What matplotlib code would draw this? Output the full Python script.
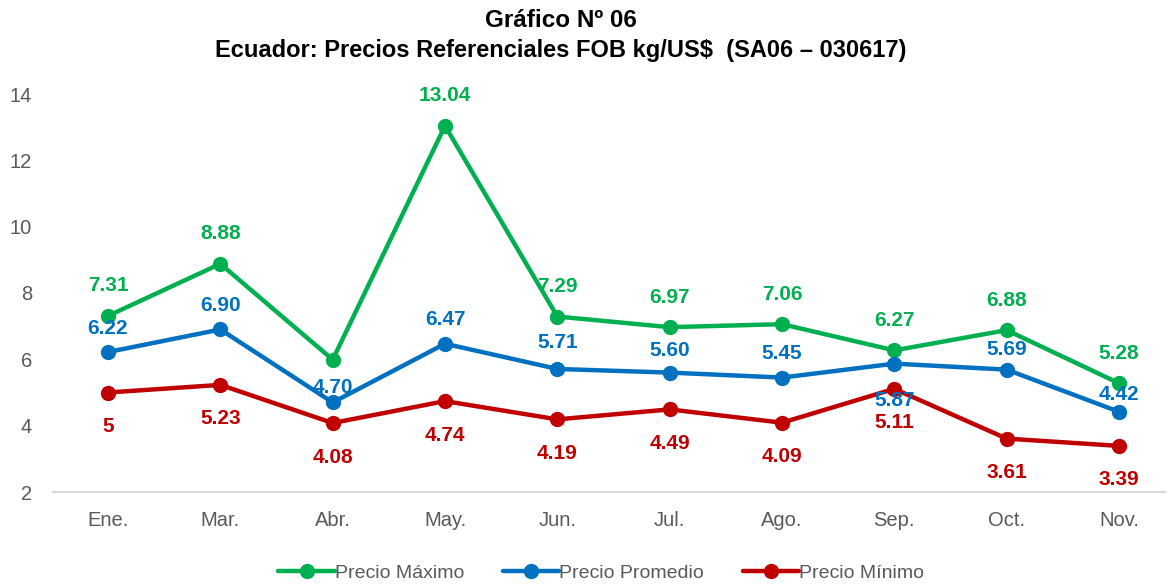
import matplotlib
matplotlib.use('Agg')
import matplotlib.pyplot as plt

months = ['Ene.', 'Mar.', 'Abr.', 'May.', 'Jun.', 'Jul.', 'Ago.', 'Sep.', 'Oct.', 'Nov.']
precio_max = [7.31, 8.88, 5.99, 13.04, 7.29, 6.97, 7.06, 6.27, 6.88, 5.28]
precio_prom = [6.22, 6.90, 4.70, 6.47, 5.71, 5.60, 5.45, 5.87, 5.69, 4.42]
precio_min = [5, 5.23, 4.08, 4.74, 4.19, 4.49, 4.09, 5.11, 3.61, 3.39]
max_labels = ['7.31', '8.88', '', '13.04', '7.29', '6.97', '7.06', '6.27', '6.88', '5.28']
prom_labels = ['6.22', '6.90', '4.70', '6.47', '5.71', '5.60', '5.45', '5.87', '5.69', '4.42']
min_labels = ['5', '5.23', '4.08', '4.74', '4.19', '4.49', '4.09', '5.11', '3.61', '3.39']

# label offsets in pixels (positive = above point)
max_off = [30] * 10
prom_off = [24, 24, 15, 24, 26, 22, 24, -37, 20, 17]
min_off = [-34] * 10

green = '#00B050'
blue = '#0070C0'
red = '#C00000'
narrow = ['Liberation Sans Narrow', 'Liberation Sans', 'DejaVu Sans']

fig = plt.figure(figsize=(11.69, 5.85), dpi=100)
ax = fig.add_axes([53 / 1169, 93 / 585, 1112 / 1169, 398 / 585])
x = list(range(len(months)))

series = [
    (precio_max, max_labels, max_off, green, 'Precio Máximo'),
    (precio_prom, prom_labels, prom_off, blue, 'Precio Promedio'),
    (precio_min, min_labels, min_off, red, 'Precio Mínimo'),
]
for vals, labs, offs, col, name in series:
    ax.plot(x, vals, color=col, lw=3.2, marker='o', ms=10, label=name,
            solid_capstyle='round')
    for xi, v, lab, off in zip(x, vals, labs, offs):
        if lab:
            ax.annotate(lab, (xi, v), xytext=(0, off * 0.72), textcoords='offset points',
                        ha='center', va='center', color=col, fontsize=15,
                        fontweight='bold', family=narrow)

ax.set_xlim(-0.49, 9.41)
ax.set_ylim(2, 14)
ax.set_yticks([2, 4, 6, 8, 10, 12, 14])
ax.set_xticks(x)
ax.set_xticklabels(months)
for s in ['top', 'right', 'left']:
    ax.spines[s].set_visible(False)
ax.spines['bottom'].set_color('#D9D9D9')
ax.spines['bottom'].set_linewidth(1.5)
ax.tick_params(axis='both', length=0, labelsize=14.5, labelcolor='#595959')
ax.tick_params(axis='y', pad=15)
ax.tick_params(axis='x', pad=14)
for t in ax.get_xticklabels() + ax.get_yticklabels():
    t.set_family(narrow)

fig.text(0.48, 0.965, 'Gráfico Nº 06', ha='center', va='center', fontsize=17.5,
         fontweight='bold', family=['Liberation Sans', 'DejaVu Sans'])
fig.text(0.48, 0.913, 'Ecuador: Precios Referenciales FOB kg/US$  (SA06 – 030617)',
         ha='center', va='center', fontsize=17, fontweight='bold',
         family=['Liberation Sans', 'DejaVu Sans'])

leg = fig.legend(loc='center', bbox_to_anchor=(0.5145, 0.02), ncol=3, frameon=False,
                 prop={'family': narrow, 'size': 14}, handlelength=2.9,
                 handletextpad=0.0, columnspacing=2.0, labelcolor='#595959')

fig.savefig('out.png', dpi=100)
